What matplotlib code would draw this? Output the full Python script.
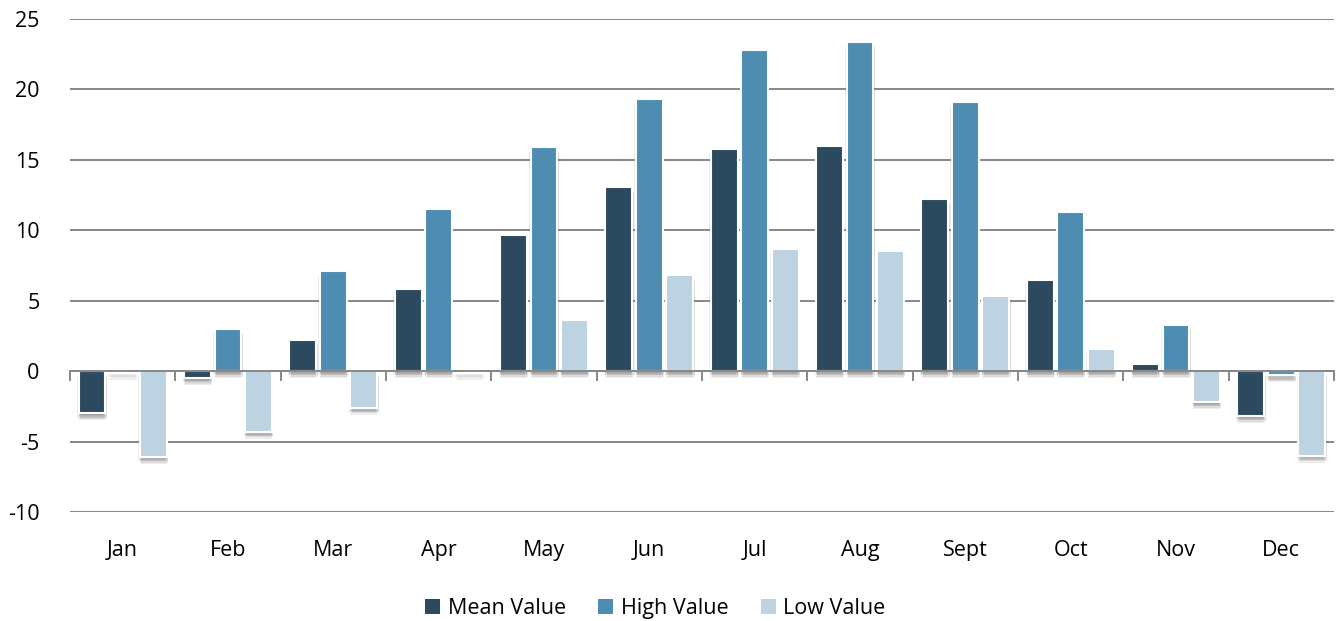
import matplotlib
matplotlib.use("Agg")
import matplotlib.pyplot as plt
import matplotlib.patheffects as pe
import numpy as np

plt.rcParams["font.family"] = ["Open Sans", "DejaVu Sans"]
plt.rcParams["axes.unicode_minus"] = False

months = ["Jan", "Feb", "Mar", "Apr", "May", "Jun", "Jul", "Aug", "Sept", "Oct", "Nov", "Dec"]
mean_value = [-3.0, -0.5, 2.2, 5.8, 9.7, 13.1, 15.8, 16.0, 12.2, 6.5, 0.5, -3.2]
high_value = [-0.1, 3.0, 7.1, 11.5, 15.9, 19.3, 22.8, 23.4, 19.1, 11.3, 3.3, -0.3]
low_value = [-6.1, -4.3, -2.6, -0.1, 3.6, 6.8, 8.7, 8.5, 5.3, 1.6, -2.2, -6.0]

series = [
    ("Mean Value", mean_value, "#2C4A5F"),
    ("High Value", high_value, "#4E8CB2"),
    ("Low Value", low_value, "#BDD3E2"),
]

fig = plt.figure(figsize=(13.4, 6.21), dpi=100)
ax = fig.add_axes([0.0522, 0.1755, 0.9433, 0.7939])

x = np.arange(len(months))
step = 0.29
width = 0.255
# soft drop shadow built from a few faint offset copies
shadow = [pe.SimplePatchShadow(offset=(dx, -dy), shadow_rgbFace="#000000", alpha=0.07)
          for dx, dy in [(0, 1), (0, 2), (1, 3), (-1, 3), (1, 4), (0, 5)]]
shadow.append(pe.Normal())
for i, (label, vals, color) in enumerate(series):
    bars = ax.bar(x + (i - 1) * step, vals, width, color=color, edgecolor="white",
                  linewidth=1.5, label=label, zorder=3)
    for b in bars:
        b.set_path_effects(shadow)

ax.set_xlim(-0.5, 11.5)
ax.set_ylim(-10, 25)
ax.set_yticks(range(-10, 26, 5))
ax.yaxis.grid(True, color="#878787", linewidth=1.4, zorder=0)
ax.set_axisbelow(True)
for s in ax.spines.values():
    s.set_visible(False)
ax.tick_params(axis="y", length=0, pad=22, labelsize=15.5)
ax.set_xticks(x)
ax.set_xticklabels(months)
ax.tick_params(axis="x", length=0, pad=20, labelsize=15.5)

# zero axis with category separators
zero_ax = ax.secondary_xaxis(10 / 35)
zero_ax.set_xticks(np.arange(-0.5, 12, 1))
zero_ax.set_xticklabels([])
zero_ax.tick_params(axis="x", direction="out", length=7, width=1.4, color="#878787")
zero_ax.spines["bottom"].set_color("#878787")
zero_ax.spines["bottom"].set_linewidth(1.4)
zero_ax.spines["top"].set_visible(False)
zero_ax.set_zorder(5)

leg = ax.legend(loc="upper center", bbox_to_anchor=(0.463, -0.135), ncol=3, frameon=False,
                fontsize=15.5, handlelength=0.7, handleheight=0.7, handletextpad=0.35,
                columnspacing=1.5)
for h in leg.legend_handles:
    h.set_path_effects([])
    h.set_linewidth(0)

fig.savefig("out.png", dpi=100)
